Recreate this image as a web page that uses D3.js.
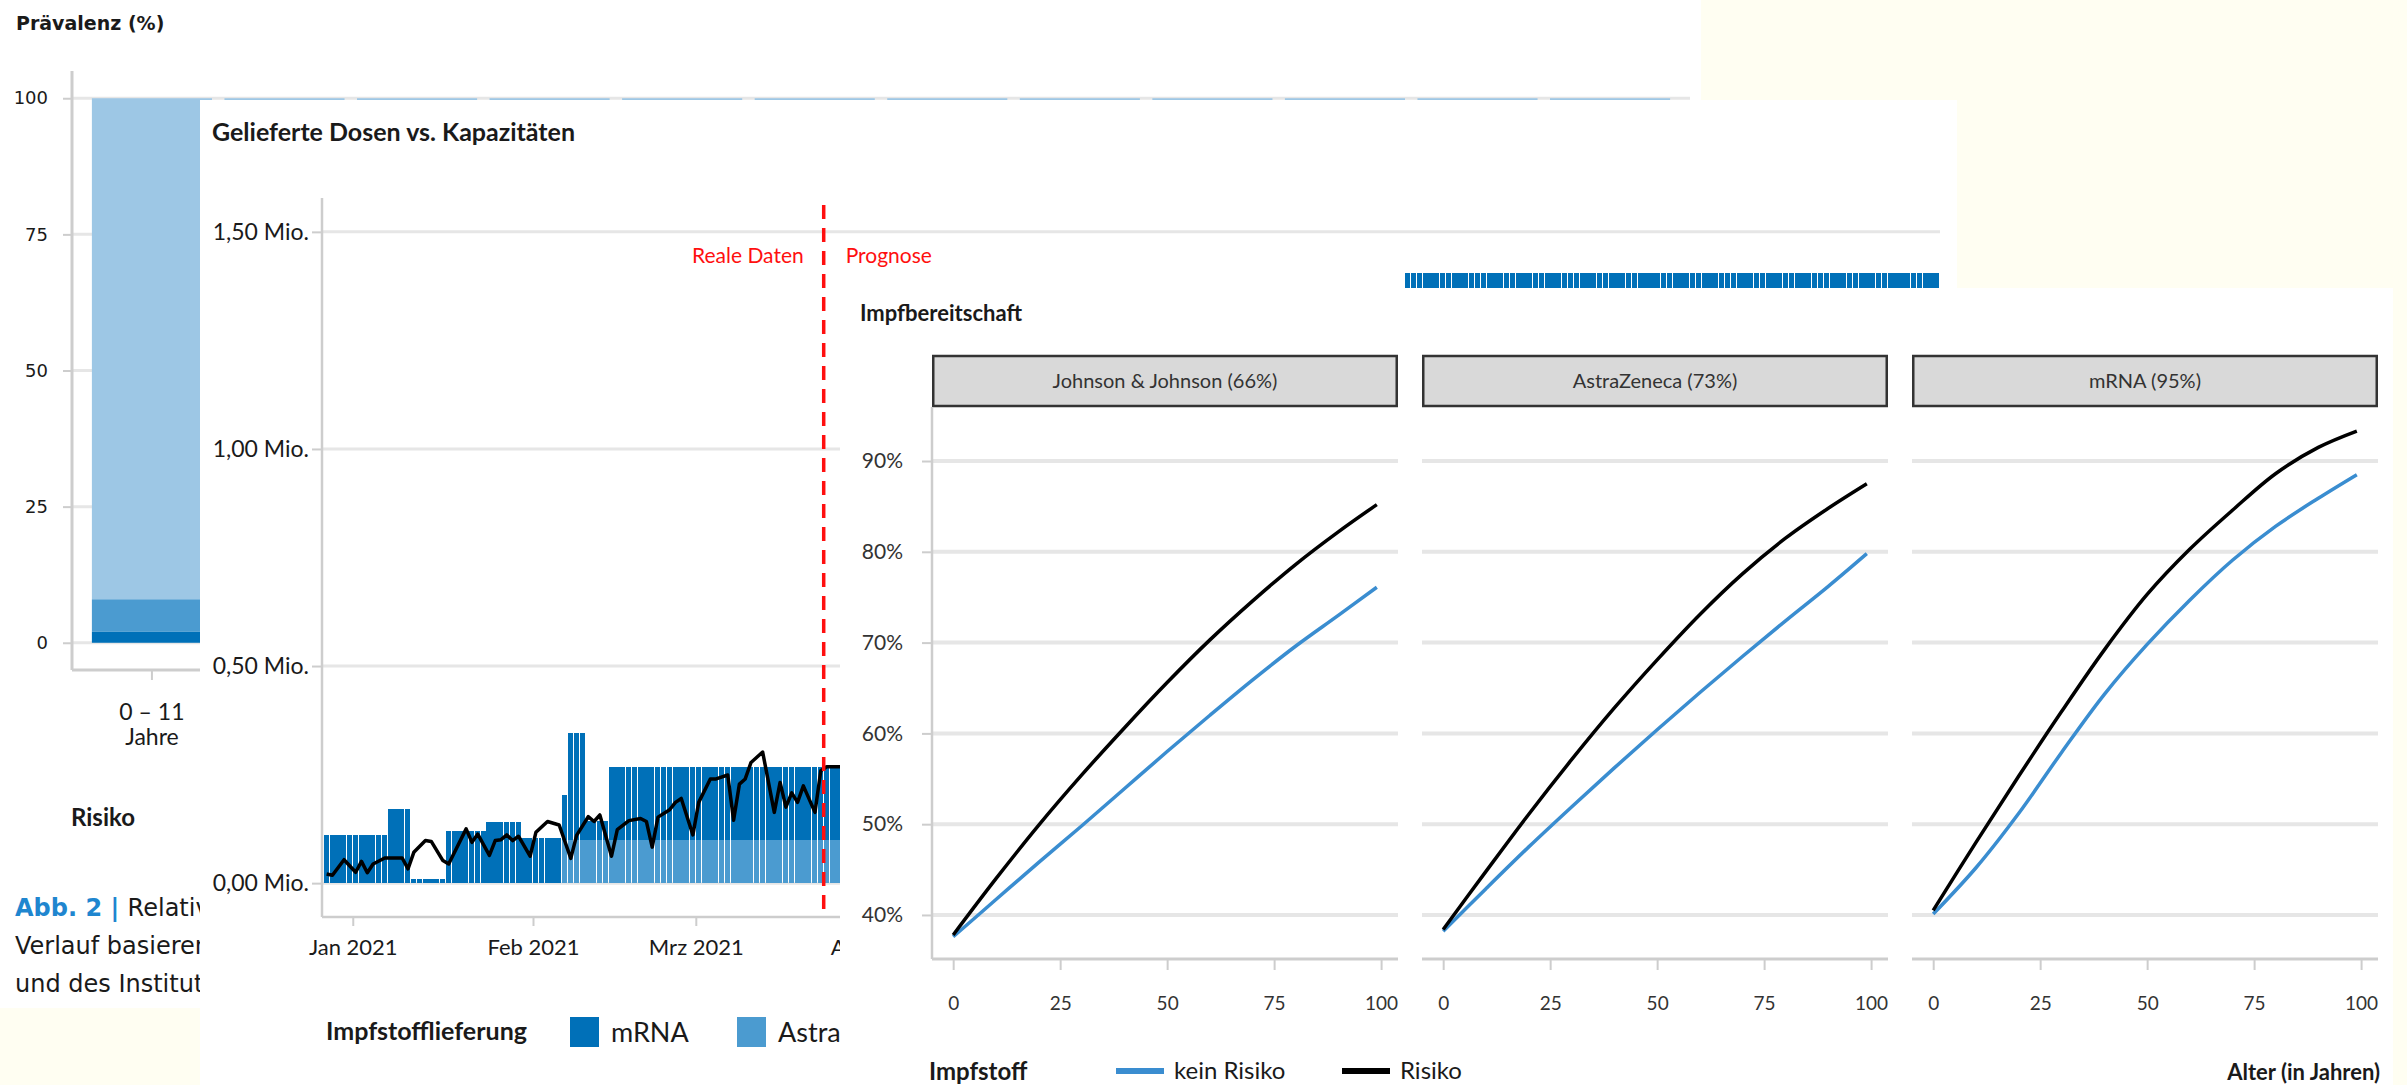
<!DOCTYPE html>
<html>
<head>
<meta charset="utf-8">
<script src="https://cdn.jsdelivr.net/npm/d3@7"></script>
<style>
  html, body { margin: 0; padding: 0; background: #fffef2; }
  svg { display: block; }
</style>
</head>
<body>
<svg id="chart" width="2407" height="1085"></svg>
<script>
// ---------------- Prevalence of risk groups by age (Abb. 2) ----------------
const ageGroups = ["0 – 11", "12 – 17", "18 – 24", "25 – 29", "30 – 39", "40 – 49",
                   "50 – 59", "60 – 64", "65 – 69", "70 – 74", "75 – 79", "≥ 80"];
const ageUnit = "Jahre";
const riskHigh     = [2, 3, 3, 4, 6, 9, 14, 22, 27, 33, 38, 45];
const riskModerate = [6, 8, 10, 11, 13, 16, 20, 23, 24, 25, 25, 24];
const riskNone     = [92, 89, 87, 85, 81, 75, 66, 55, 49, 42, 37, 31];
const riskKeys     = ["hohes Risiko", "moderates Risiko", "kein Risiko"];
const prevTicks    = [0, 25, 50, 75, 100];

// ---------------- Delivered doses vs. capacities (million doses per day) ----------------
const deliveryStart = ["2020-12-27", "2021-01-07", "2021-01-11", "2021-01-17", "2021-01-24",
                       "2021-01-30", "2021-02-06", "2021-02-07", "2021-02-10", "2021-02-14",
                       "2021-04-01", "2021-05-01", "2021-06-01", "2021-07-01"];
const deliveryEnd = "2021-10-01";
const mrnaPerDay  = [0.111, 0.171, 0.010, 0.120, 0.140, 0.103, 0.104, 0.245, 0.044, 0.168,
                     0.400, 0.700, 1.000, 1.256];
const azPerDay    = [0, 0, 0, 0, 0, 0, 0.100, 0.100, 0.100, 0.100,
                     0.150, 0.150, 0.150, 0.150];
const capacityDates = ["2020-12-27", "2020-12-28", "2020-12-30", "2021-01-01", "2021-01-02",
  "2021-01-03", "2021-01-04", "2021-01-06", "2021-01-09", "2021-01-10", "2021-01-11",
  "2021-01-13", "2021-01-14", "2021-01-16", "2021-01-17", "2021-01-20", "2021-01-21",
  "2021-01-22", "2021-01-24", "2021-01-25", "2021-01-26", "2021-01-27", "2021-01-28",
  "2021-01-29", "2021-01-31", "2021-02-01", "2021-02-03", "2021-02-05", "2021-02-07",
  "2021-02-08", "2021-02-10", "2021-02-11", "2021-02-12", "2021-02-14", "2021-02-15",
  "2021-02-17", "2021-02-19", "2021-02-20", "2021-02-21", "2021-02-22", "2021-02-24",
  "2021-02-25", "2021-02-26", "2021-02-28", "2021-03-01", "2021-03-03", "2021-03-04",
  "2021-03-06", "2021-03-07", "2021-03-08", "2021-03-09", "2021-03-10", "2021-03-12",
  "2021-03-14", "2021-03-15", "2021-03-16", "2021-03-17", "2021-03-18", "2021-03-19",
  "2021-03-21", "2021-03-22", "2021-03-23", "2021-03-31"];
const capacityValues = [0.021, 0.018, 0.054, 0.025, 0.050,
  0.024, 0.044, 0.058, 0.058, 0.033, 0.071,
  0.098, 0.096, 0.052, 0.044, 0.125, 0.094,
  0.113, 0.064, 0.098, 0.100, 0.111, 0.098,
  0.108, 0.062, 0.117, 0.142, 0.134, 0.057,
  0.110, 0.153, 0.142, 0.157, 0.062, 0.123,
  0.144, 0.149, 0.142, 0.083, 0.152, 0.169,
  0.186, 0.195, 0.111, 0.186, 0.240, 0.240,
  0.249, 0.145, 0.228, 0.240, 0.278, 0.302,
  0.163, 0.232, 0.175, 0.208, 0.186, 0.224,
  0.163, 0.259, 0.268, 0.268];
const doseTicks      = [0, 0.5, 1.0, 1.5];
const doseTickLabels = ["0,00 Mio.", "0,50 Mio.", "1,00 Mio.", "1,50 Mio."];
const monthTicks      = ["2021-01-01", "2021-02-01", "2021-03-01", "2021-04-01"];
const monthTickLabels = ["Jan 2021", "Feb 2021", "Mrz 2021", "Apr 2021"];
const forecastStart   = "2021-03-23";
const vaccineKeys     = ["mRNA", "AstraZeneca"];

// ---------------- Willingness to get vaccinated (%) by age ----------------
const vaccines = ["Johnson & Johnson (66%)", "AstraZeneca (73%)", "mRNA (95%)"];
const ages = [0, 10, 20, 30, 40, 50, 60, 70, 80, 90, 99];
const readinessNoRisk = [
  [37.6, 41.7, 45.8, 49.8, 53.9, 58.0, 62.0, 65.9, 69.6, 73.0, 76.1],
  [38.2, 42.9, 47.5, 51.9, 56.2, 60.4, 64.5, 68.5, 72.4, 76.2, 79.8],
  [40.1, 45.2, 51.2, 57.9, 64.3, 69.8, 74.7, 79.1, 82.8, 85.9, 88.5]
];
const readinessRisk = [
  [37.8, 44.0, 49.9, 55.4, 60.6, 65.6, 70.3, 74.6, 78.6, 82.2, 85.2],
  [38.4, 44.8, 51.1, 57.1, 62.8, 68.1, 73.1, 77.6, 81.5, 84.8, 87.5],
  [40.5, 48.0, 55.3, 62.4, 69.2, 75.3, 80.3, 84.6, 88.6, 91.5, 93.3]
];
const readinessTicks = [40, 50, 60, 70, 80, 90];
const ageTicks = [0, 25, 50, 75, 100];

// ---------------- drawing ----------------
const FONT = "Lato, 'Open Sans', 'DejaVu Sans', sans-serif";
const FONT_WIDE = "'DejaVu Sans', Verdana, sans-serif";
const C_DARK = "#0070b8", C_MID = "#4b9bd0", C_LIGHT = "#9dc7e5";
const GRID = "#e6e6e6", AXIS = "#cdcdcd";
const svg = d3.select("#chart");
const parse = d3.utcParse("%Y-%m-%d");

function styleAxis(g, size, color, family) {
  g.attr("font-family", family || FONT).attr("font-size", size);
  g.select(".domain").remove();
  g.selectAll(".tick line").attr("stroke", AXIS).attr("stroke-width", 2);
  g.selectAll(".tick text").attr("fill", color);
}

// ===== Layer 1: Prävalenz =====
const L1 = svg.append("g");
L1.append("rect").attr("x", 0).attr("y", 0).attr("width", 1701).attr("height", 1008).attr("fill", "#fff");

const xPrev = d3.scaleBand().domain(ageGroups).range([72, 1690]).paddingInner(0.094).paddingOuter(0.15);
const yPrev = d3.scaleLinear().domain([-5, 105]).range([670, 71]);

L1.append("g").selectAll("line").data(prevTicks).join("line")
  .attr("x1", xPrev.range()[0]).attr("x2", xPrev.range()[1])
  .attr("y1", d => yPrev(d)).attr("y2", d => yPrev(d))
  .attr("stroke", GRID).attr("stroke-width", 3);

const prevRows = ageGroups.map((g, i) => ({ group: g, "hohes Risiko": riskHigh[i],
  "moderates Risiko": riskModerate[i], "kein Risiko": riskNone[i] }));
const prevColor = d3.scaleOrdinal().domain(riskKeys).range([C_DARK, C_MID, C_LIGHT]);
L1.append("g").selectAll("g").data(d3.stack().keys(riskKeys)(prevRows)).join("g")
  .attr("fill", s => prevColor(s.key))
  .selectAll("rect").data(s => s).join("rect")
  .attr("x", d => xPrev(d.data.group)).attr("width", xPrev.bandwidth())
  .attr("y", d => yPrev(d[1])).attr("height", d => yPrev(d[0]) - yPrev(d[1]));

const gyPrev = L1.append("g").attr("transform", "translate(72,0)")
  .call(d3.axisLeft(yPrev).tickValues(prevTicks).tickSize(9).tickPadding(15));
styleAxis(gyPrev, 18, "#1a1a1a", FONT_WIDE);
L1.append("line").attr("x1", 72).attr("x2", 72).attr("y1", yPrev.range()[1]).attr("y2", yPrev.range()[0])
  .attr("stroke", AXIS).attr("stroke-width", 3);

const gxPrev = L1.append("g").attr("transform", "translate(0,670)")
  .call(d3.axisBottom(xPrev).tickSize(10));
styleAxis(gxPrev, 23, "#1a1a1a");
gxPrev.selectAll(".tick text").text(null).attr("y", 0).attr("dy", null)
  .each(function (d) {
    const t = d3.select(this);
    t.append("tspan").attr("x", 0).attr("y", 50).text(d);
    t.append("tspan").attr("x", 0).attr("y", 75).text(ageUnit);
  });
L1.append("line").attr("x1", 72).attr("x2", xPrev.range()[1]).attr("y1", 670).attr("y2", 670)
  .attr("stroke", AXIS).attr("stroke-width", 3);

L1.append("text").attr("x", 16).attr("y", 30).attr("font-family", FONT_WIDE).attr("font-weight", 700)
  .attr("font-size", 19).attr("fill", "#1a1a1a").text("Prävalenz (%)");

L1.append("text").attr("x", 71).attr("y", 826).attr("font-family", FONT).attr("font-weight", 700)
  .attr("font-size", 24).attr("fill", "#1a1a1a").text("Risiko");
const legPrev = L1.append("g").selectAll("g").data(riskKeys.slice().reverse()).join("g")
  .attr("transform", (d, i) => `translate(${240 + i * 230},802)`);
legPrev.append("rect").attr("width", 26).attr("height", 26).attr("fill", d => prevColor(d));
legPrev.append("text").attr("x", 36).attr("y", 21).attr("font-family", FONT).attr("font-size", 21)
  .attr("fill", "#1a1a1a").text(d => d);

const caption = L1.append("text").attr("font-family", FONT_WIDE).attr("font-size", 24).attr("fill", "#1a1a1a");
const cap1 = caption.append("tspan").attr("x", 15).attr("y", 916);
cap1.append("tspan").attr("fill", "#1f86cf").attr("font-weight", 700).text("Abb. 2 | ");
cap1.append("tspan").text("Relative");
caption.append("tspan").attr("x", 15).attr("y", 954).text("Verlauf basierend");
caption.append("tspan").attr("x", 15).attr("y", 992).text("und des Instituts");

// ===== Layer 2: Gelieferte Dosen vs. Kapazitäten =====
const L2 = svg.append("g");
L2.append("rect").attr("x", 200).attr("y", 100).attr("width", 1757).attr("height", 985).attr("fill", "#fff");

const xTime = d3.scaleUtc()
  .domain([new Date(Date.UTC(2020, 11, 26, 17)), parse(deliveryEnd)]).range([322, 1940]);
const yDose = d3.scaleLinear().domain([-0.078, 1.578]).range([917, 198]);

L2.append("text").attr("x", 212).attr("y", 141).attr("font-family", FONT).attr("font-weight", 700)
  .attr("font-size", 25).attr("fill", "#1a1a1a").text("Gelieferte Dosen vs. Kapazitäten");

L2.append("g").selectAll("line").data(doseTicks).join("line")
  .attr("x1", xTime.range()[0]).attr("x2", xTime.range()[1])
  .attr("y1", d => yDose(d)).attr("y2", d => yDose(d))
  .attr("stroke", GRID).attr("stroke-width", 3);

const periodStarts = deliveryStart.map(parse);
const days = d3.utcDay.range(parse(deliveryStart[0]), parse(deliveryEnd));
const dailyRows = days.map(day => {
  const i = d3.bisectRight(periodStarts, day) - 1;
  return { date: day, mRNA: mrnaPerDay[i], AstraZeneca: azPerDay[i] };
});
const doseColor = d3.scaleOrdinal().domain(vaccineKeys).range([C_DARK, C_MID]);
L2.append("g").attr("shape-rendering", "crispEdges").selectAll("g")
  .data(d3.stack().keys(["AstraZeneca", "mRNA"])(dailyRows)).join("g")
  .attr("fill", s => doseColor(s.key))
  .selectAll("rect").data(s => s).join("rect")
  .attr("x", d => xTime(d.data.date))
  .attr("width", d => xTime(d3.utcDay.offset(d.data.date, 1)) - xTime(d.data.date) - 0.6)
  .attr("y", d => yDose(d[1]))
  .attr("height", d => Math.max(0, yDose(d[0]) - yDose(d[1])));

const halfDay = (xTime(parse("2021-01-02")) - xTime(parse("2021-01-01"))) / 2;
const capRows = capacityDates.map((d, i) => ({ date: parse(d), v: capacityValues[i] }));
L2.append("path").datum(capRows)
  .attr("fill", "none").attr("stroke", "#000").attr("stroke-width", 3.5).attr("stroke-linejoin", "round")
  .attr("d", d3.line().x(d => xTime(d.date) + halfDay).y(d => yDose(d.v)));

const xSplit = xTime(parse(forecastStart));
L2.append("line").attr("x1", xSplit).attr("x2", xSplit).attr("y1", 205).attr("y2", 917)
  .attr("stroke", "#ff0f0f").attr("stroke-width", 3.5).attr("stroke-dasharray", "14,9");
L2.append("text").attr("x", xSplit - 20).attr("y", 263).attr("text-anchor", "end")
  .attr("font-family", FONT).attr("font-size", 21).attr("fill", "#ff0f0f").text("Reale Daten");
L2.append("text").attr("x", xSplit + 22).attr("y", 263)
  .attr("font-family", FONT).attr("font-size", 21).attr("fill", "#ff0f0f").text("Prognose");

const gyDose = L2.append("g").attr("transform", "translate(322,0)")
  .call(d3.axisLeft(yDose).tickValues(doseTicks).tickFormat((d, i) => doseTickLabels[i]).tickSize(10).tickPadding(3));
styleAxis(gyDose, 23, "#1a1a1a");
L2.append("line").attr("x1", 322).attr("x2", 322).attr("y1", yDose.range()[1]).attr("y2", yDose.range()[0])
  .attr("stroke", AXIS).attr("stroke-width", 2.5);

const gxDose = L2.append("g").attr("transform", "translate(0,917)")
  .call(d3.axisBottom(xTime).tickValues(monthTicks.map(parse)).tickFormat((d, i) => monthTickLabels[i])
    .tickSize(9).tickPadding(13));
styleAxis(gxDose, 22, "#1a1a1a");
L2.append("line").attr("x1", xTime.range()[0]).attr("x2", xTime.range()[1]).attr("y1", 917).attr("y2", 917)
  .attr("stroke", AXIS).attr("stroke-width", 2.5);

L2.append("text").attr("x", 326).attr("y", 1040).attr("font-family", FONT).attr("font-weight", 700)
  .attr("font-size", 25).attr("fill", "#1a1a1a").text("Impfstofflieferung");
const legDose = L2.append("g").selectAll("g").data(vaccineKeys).join("g")
  .attr("transform", (d, i) => `translate(${570 + i * 167},1017)`);
legDose.append("rect").attr("width", 29).attr("height", 30).attr("fill", d => doseColor(d));
legDose.append("text").attr("x", 41).attr("y", 25).attr("font-family", FONT).attr("font-size", 27)
  .attr("fill", "#1a1a1a").text(d => d);

// ===== Layer 3: Impfbereitschaft =====
const L3 = svg.append("g");
L3.append("rect").attr("x", 840).attr("y", 288).attr("width", 1553).attr("height", 797).attr("fill", "#fff");

L3.append("text").attr("x", 860).attr("y", 321).attr("font-family", FONT).attr("font-weight", 700)
  .attr("font-size", 22).attr("fill", "#1a1a1a").text("Impfbereitschaft");

const xFacet = d3.scaleBand().domain(vaccines).range([932, 2378]).paddingInner(0.049);
const xAgeLin = d3.scaleLinear().domain([-4.95, 103.95]).range([0, xFacet.bandwidth()]);
const yReady = d3.scaleLinear().domain([35.15, 95.95]).range([959, 407]);
const BLUE_LINE = "#3a8dd0";

const facets = L3.selectAll("g.facet").data(vaccines).join("g")
  .attr("class", "facet").attr("transform", d => `translate(${xFacet(d)},0)`);

facets.append("g").selectAll("line").data(readinessTicks).join("line")
  .attr("x1", 0).attr("x2", xFacet.bandwidth())
  .attr("y1", d => yReady(d)).attr("y2", d => yReady(d))
  .attr("stroke", GRID).attr("stroke-width", 4);

facets.append("rect").attr("x", 1.25).attr("y", 356).attr("width", xFacet.bandwidth() - 2.5).attr("height", 50)
  .attr("fill", "#d9d9d9").attr("stroke", "#333").attr("stroke-width", 2.5);
facets.append("text").attr("x", xFacet.bandwidth() / 2).attr("y", 388).attr("text-anchor", "middle")
  .attr("font-family", FONT).attr("font-size", 20).attr("fill", "#333").text(d => d);

const readyLine = d3.line().curve(d3.curveCatmullRom.alpha(0.5))
  .x((d, i) => xAgeLin(ages[i])).y(d => yReady(d));
facets.append("path").attr("fill", "none").attr("stroke", BLUE_LINE).attr("stroke-width", 3.5)
  .attr("d", (d, i) => readyLine(readinessNoRisk[i]));
facets.append("path").attr("fill", "none").attr("stroke", "#000").attr("stroke-width", 3.5)
  .attr("d", (d, i) => readyLine(readinessRisk[i]));

facets.each(function () {
  const g = d3.select(this);
  const gx = g.append("g").attr("transform", "translate(0,959)")
    .call(d3.axisBottom(xAgeLin).tickValues(ageTicks).tickSize(11).tickPadding(27));
  styleAxis(gx, 19, "#333");
  g.append("line").attr("x1", 0).attr("x2", xFacet.bandwidth()).attr("y1", 959).attr("y2", 959)
    .attr("stroke", AXIS).attr("stroke-width", 3);
});

const gyReady = L3.append("g").attr("transform", "translate(932,0)")
  .call(d3.axisLeft(yReady).tickValues(readinessTicks).tickFormat(d => d + "%").tickSize(10).tickPadding(19));
styleAxis(gyReady, 21, "#333");
L3.append("line").attr("x1", 932).attr("x2", 932).attr("y1", 407).attr("y2", 959)
  .attr("stroke", AXIS).attr("stroke-width", 2.5);

L3.append("text").attr("x", 929).attr("y", 1080).attr("font-family", FONT).attr("font-weight", 700)
  .attr("font-size", 24).attr("fill", "#1a1a1a").text("Impfstoff");
const riskLegend = [["kein Risiko", BLUE_LINE], ["Risiko", "#000"]];
const legReady = L3.append("g").selectAll("g").data(riskLegend).join("g")
  .attr("transform", (d, i) => `translate(${1116 + i * 226},1071)`);
legReady.append("line").attr("x1", 0).attr("x2", 48).attr("stroke", d => d[1]).attr("stroke-width", 6);
legReady.append("text").attr("x", 58).attr("y", 8).attr("font-family", FONT).attr("font-size", 24)
  .attr("fill", "#1a1a1a").text(d => d[0]);
L3.append("text").attr("x", 2380).attr("y", 1080).attr("text-anchor", "end").attr("font-family", FONT)
  .attr("font-weight", 700).attr("font-size", 22).attr("fill", "#1a1a1a").text("Alter (in Jahren)");
</script>
</body>
</html>
